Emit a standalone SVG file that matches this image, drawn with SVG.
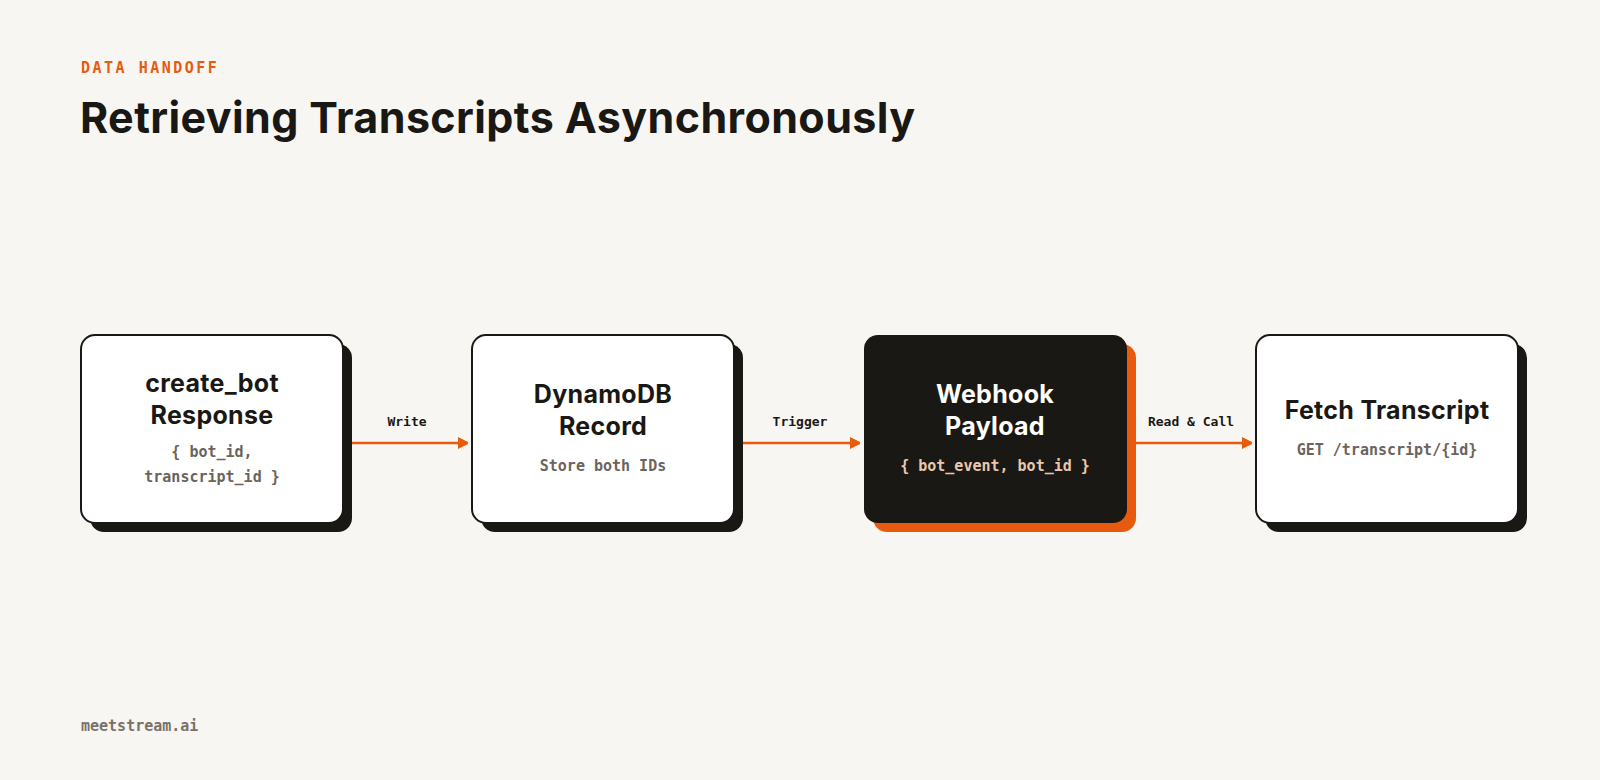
<svg xmlns="http://www.w3.org/2000/svg" width="1600" height="780" viewBox="0 0 1600 780">
<style>
.t{font-family:Inter,"Noto Sans",sans-serif;font-weight:700;text-anchor:middle;font-size:25px;letter-spacing:0.3px;fill:#1a1814}
.m{font-family:"DejaVu Sans Mono","Liberation Mono",monospace;font-weight:700;text-anchor:middle;font-size:15px;fill:#6b645c}
.l{font-family:"DejaVu Sans Mono","Liberation Mono",monospace;font-weight:700;text-anchor:middle;font-size:13px;fill:#1a1814}
.box{fill:#ffffff;stroke:#1a1814;stroke-width:2}
.sh{fill:#1a1814}
.ar{stroke:#e85a0e;stroke-width:2.5;fill:none}
</style>
<defs><marker id="a" markerWidth="10" markerHeight="12" refX="9" refY="6" orient="auto" markerUnits="userSpaceOnUse"><path d="M0,0 L12,6 L0,12 Z" fill="#e85a0e"/></marker></defs>
<rect width="1600" height="780" fill="#f7f6f3"/>
<text x="81" y="73" font-family="'DejaVu Sans Mono',monospace" font-weight="700" font-size="15" letter-spacing="2.5" fill="#e85a0e">DATA HANDOFF</text>
<text x="80" y="133" font-family="Inter,sans-serif" font-weight="700" font-size="43" letter-spacing="0.4" fill="#1a1814">Retrieving Transcripts Asynchronously</text>
<g id="connectors">
<line class="ar" x1="343" y1="443" x2="467" y2="443" marker-end="url(#a)"/>
<line class="ar" x1="735" y1="443" x2="859" y2="443" marker-end="url(#a)"/>
<line class="ar" x1="1128" y1="443" x2="1251" y2="443" marker-end="url(#a)"/>
<text class="l" x="407" y="426">Write</text>
<text class="l" x="800" y="426">Trigger</text>
<text class="l" x="1191" y="426">Read &amp; Call</text>
</g>
<g id="n1"><rect class="sh" x="90" y="344" width="262" height="188" rx="14"/><rect class="box" x="81" y="335" width="262" height="188" rx="14"/>
<text class="t" x="212" y="392">create_bot</text><text class="t" x="212" y="424">Response</text>
<text class="m" x="212" y="457">{ bot_id,</text><text class="m" x="212" y="482">transcript_id }</text></g>
<g id="n2"><rect class="sh" x="481" y="344" width="262" height="188" rx="14"/><rect class="box" x="472" y="335" width="262" height="188" rx="14"/>
<text class="t" x="603" y="403">DynamoDB</text><text class="t" x="603" y="435">Record</text>
<text class="m" x="603" y="471">Store both IDs</text></g>
<g id="n3"><rect x="873" y="344" width="263" height="188" rx="14" fill="#e85a0e"/><rect x="864" y="335" width="263" height="188" rx="14" fill="#1a1814"/>
<text class="t" x="995" y="403" style="fill:#fff">Webhook</text><text class="t" x="995" y="435" style="fill:#fff">Payload</text>
<text class="m" x="995" y="471" style="fill:#e8c9b0">{ bot_event, bot_id }</text></g>
<g id="n4"><rect class="sh" x="1265" y="344" width="262" height="188" rx="14"/><rect class="box" x="1256" y="335" width="262" height="188" rx="14"/>
<text class="t" x="1387" y="419">Fetch Transcript</text>
<text class="m" x="1387" y="455">GET /transcript/{id}</text></g>
<text x="81" y="731" font-family="'DejaVu Sans Mono',monospace" font-weight="700" font-size="15" fill="#7a7268">meetstream.ai</text>
</svg>
